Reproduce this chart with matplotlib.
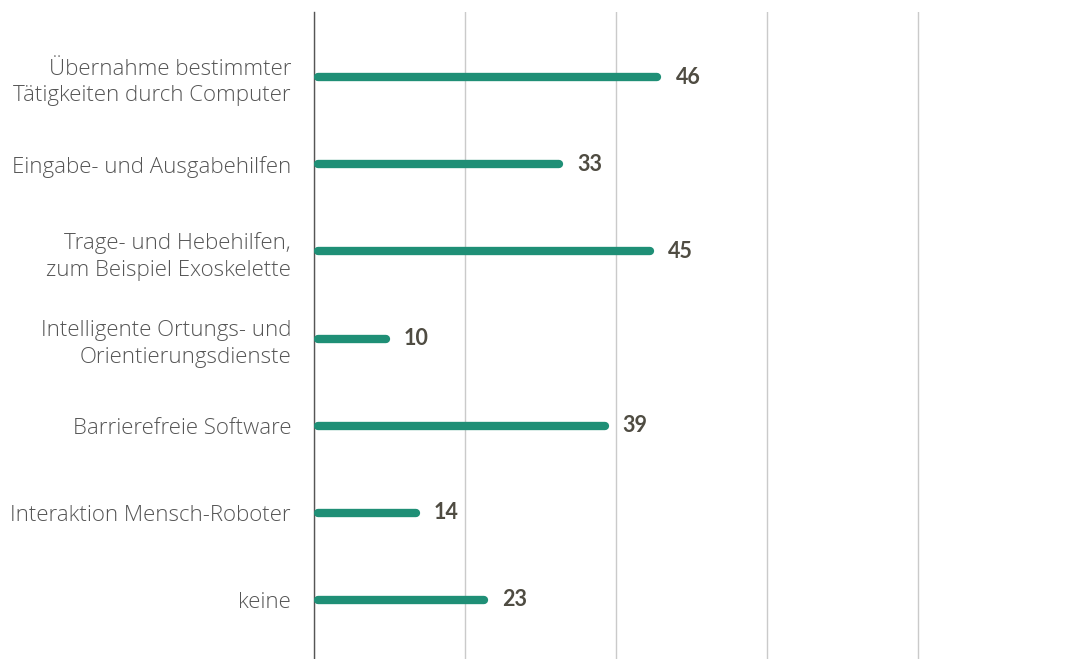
import numpy as np
import matplotlib.pyplot as plt

kategorien = ["Übernahme bestimmter\nTätigkeiten durch Computer",
              "Eingabe- und Ausgabehilfen",
              "Trage- und Hebehilfen,\nzum Beispiel Exoskelette",
              "Intelligente Ortungs- und\nOrientierungsdienste",
              "Barrierefreie Software",
              "Interaktion Mensch-Roboter",
              "keine"]
werte = [46, 33, 45, 10, 39, 14, 23]
gitter = [0, 20, 40, 60, 80]

gruen = '#1f8f76'
plt.rcParams['font.family'] = ['Open Sans', 'DejaVu Sans']

fig = plt.figure(figsize=[10.65, 6.59], dpi=100)
ax = fig.add_axes([314/1065, 0, 1 - 314/1065, 1 - 12/659])

y = np.arange(len(werte))
lw = 6
for yi, v in zip(y, werte):
    ax.plot([0.5, v - 0.5], [yi, yi], color=gruen, lw=lw, solid_capstyle='round', zorder=3)
    ax.text(v + 1.9, yi, str(v), va='center', ha='left', fontsize=15.5,
            fontweight='bold', color='#4f4c42', family=['Lato', 'DejaVu Sans'])

ax.set_xlim(0, 99.5)
ax.set_ylim(len(werte) - 0.32, -0.75)
ax.set_xticks(gitter)
ax.set_xticklabels([])
ax.tick_params(axis='x', length=0)
ax.grid(axis='x', color='#cacaca', lw=1, zorder=0)

ax.set_yticks(y)
ax.set_yticklabels(kategorien, fontsize=16, color='#555555', fontweight='light',
                   linespacing=1.35)
ax.tick_params(axis='y', length=0, pad=16.5)

for s in ['top', 'right', 'bottom']:
    ax.spines[s].set_visible(False)
ax.spines['left'].set_color('#555555')
ax.spines['left'].set_linewidth(1)

plt.savefig('out.png', dpi=100)
